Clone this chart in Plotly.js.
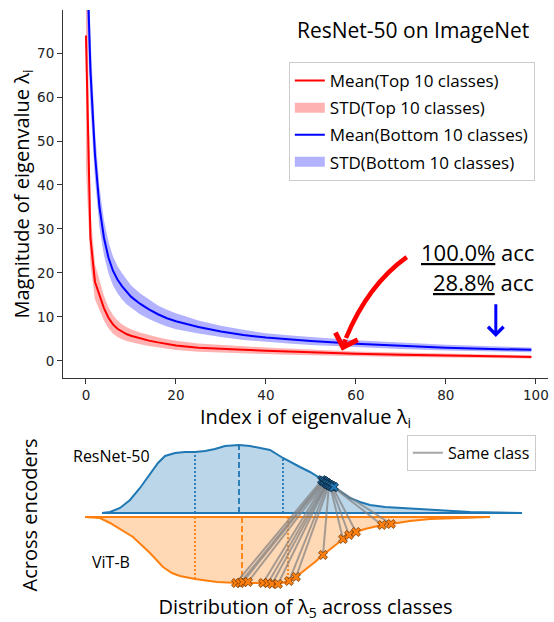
<!DOCTYPE html>
<html>
<head>
<meta charset="utf-8">
<script src="https://cdn.plot.ly/plotly-3.0.1.min.js"></script>
<style>html,body{margin:0;padding:0;background:#fff;}#chart{width:554px;height:622px;}</style>
</head>
<body>
<div id="chart"></div>
<script>
// ---------- Top panel data: eigenvalue spectrum ----------
const eigIndex   = [0,1,2,3,4,5,6,7,8,9,10,12,14,16,18,20,25,30,35,40,45,50,60,70,80,90,99];
const meanTop    = [74,28,18,15,12,9.8,8.3,7.3,6.6,6.1,5.7,5.1,4.6,4.2,3.8,3.5,3.0,2.7,2.5,2.3,2.1,1.9,1.6,1.4,1.2,1.0,0.9];
const stdTop     = [30,6,4,3.2,2.8,2.4,2.1,1.9,1.7,1.6,1.5,1.35,1.25,1.15,1.1,1.05,0.95,0.85,0.8,0.75,0.7,0.65,0.55,0.5,0.45,0.4,0.35];
const meanBottom = [100,66,47,35,28,23.5,20.5,18.5,17,15.7,14.6,13,11.7,10.6,9.7,9.0,7.7,6.7,5.9,5.3,4.9,4.5,3.9,3.4,3.0,2.7,2.5];
const stdBottom  = [15,8,5.5,4.6,4.0,3.6,3.3,3.1,3.0,2.8,2.6,2.4,2.2,2.0,1.9,1.8,1.5,1.3,1.15,1.0,0.95,0.9,0.8,0.7,0.65,0.6,0.55];
const xTickVals  = [0,20,40,60,80,100];
const yTickVals  = [0,10,20,30,40,50,60,70];

// ---------- Bottom panel data: distribution of lambda_5 ----------
const resnetX    = [102,110,120,130,140,150,158,165,175,185,195,205,215,225,239,250,260,270,283,292,300,310,320,328,340,350,360,370,385,400,430,470,522];
const resnetDens = [2,3,7,15,27,41,52,59,62,63,63,64,66,69,70,69,67,65,57,52,48,43,37,32,24,17,13,10,8,7,5,3,2];
const vitX       = [85,100,110,120,133,150,163,172,180,195,217,239,260,278,289,296,305,315,323,333,343,350,356,365,382,391,410,430,460,490];
const vitDens    = [-2,-3,-8,-14,-22,-38,-52,-58,-61,-64,-67,-68,-68,-69,-66,-62,-55,-47,-40,-32,-24,-20,-17,-14,-10,-9,-6,-4,-3,-2];
const resnetQuartX = [195,239,283];
const resnetQuartH = [63,70,57];
const vitQuartX    = [195,242,288];
const vitQuartH    = [-64,-67.5,-66];
const resnetCrossX = [322,323,324,325,325,326,327,327,328,329,329,330,331,332,333,334];
const resnetCrossY = [35,34,34,33,33,32,32,31,31,30,30,30,29,29,28,28];
const vitCrossX    = [236,240,243,248,263,268,272,278,289,296,323,343,349,356,382,391];
const vitCrossY    = [-68,-68,-67,-67,-68,-68,-69,-69,-66,-62,-40,-24,-20,-17,-10,-9];

const TITLE_FONT = '"Open Sans", "Noto Sans", sans-serif';
const TICK_FONT = '"DejaVu Sans", sans-serif';

function band(x, m, s) {
  const up = m.map((v, i) => v + s[i]);
  const lo = m.map((v, i) => v - s[i]);
  return {x: x.concat(x.slice().reverse()), y: up.concat(lo.reverse())};
}
const bTop = band(eigIndex, meanTop, stdTop);
const bBot = band(eigIndex, meanBottom, stdBottom);

const traces = [
  {x: bTop.x, y: bTop.y, xaxis: 'x', yaxis: 'y', mode: 'lines', fill: 'toself',
   fillcolor: 'rgba(255,0,0,0.3)', line: {width: 0}, showlegend: false, legendgroup: 'sTop', hoverinfo: 'skip'},
  {x: bBot.x, y: bBot.y, xaxis: 'x', yaxis: 'y', mode: 'lines', fill: 'toself',
   fillcolor: 'rgba(0,0,255,0.3)', line: {width: 0}, showlegend: false, legendgroup: 'sBot', hoverinfo: 'skip'},
  {x: eigIndex, y: meanTop, xaxis: 'x', yaxis: 'y', mode: 'lines', line: {color: '#ff0000', width: 2},
   name: 'Mean(Top 10 classes)', legendgroup: 'mTop', legendrank: 1},
  {x: eigIndex, y: meanBottom, xaxis: 'x', yaxis: 'y', mode: 'lines', line: {color: '#0000ff', width: 2},
   name: 'Mean(Bottom 10 classes)', legendgroup: 'mBot', legendrank: 3},
  // legend-only swatches for the STD bands
  {x: [null], y: [null], xaxis: 'x', yaxis: 'y', mode: 'lines', line: {color: 'rgba(255,0,0,0.3)', width: 11},
   name: 'STD(Top 10 classes)', legendgroup: 'sTop', legendrank: 2},
  {x: [null], y: [null], xaxis: 'x', yaxis: 'y', mode: 'lines', line: {color: 'rgba(0,0,255,0.3)', width: 11},
   name: 'STD(Bottom 10 classes)', legendgroup: 'sBot', legendrank: 4}
];

// bottom panel: half violins
traces.push({x: resnetX.concat([resnetX[0]]), y: resnetDens.concat([resnetDens[0]]), xaxis: 'x2', yaxis: 'y2',
  mode: 'lines', fill: 'toself', fillcolor: 'rgba(31,119,180,0.3)', line: {color: '#1f77b4', width: 2},
  showlegend: false, hoverinfo: 'skip'});
traces.push({x: vitX.concat([vitX[0]]), y: vitDens.concat([vitDens[0]]), xaxis: 'x2', yaxis: 'y2',
  mode: 'lines', fill: 'toself', fillcolor: 'rgba(255,127,14,0.3)', line: {color: '#ff7f0e', width: 2},
  showlegend: false, hoverinfo: 'skip'});

function quartLines(qx, qh, base, color) {
  const styles = ['2px,2px', '6px,3px', '2px,2px'];
  return qx.map((xv, i) => ({x: [xv, xv], y: [base, qh[i]], xaxis: 'x2', yaxis: 'y2', mode: 'lines',
    line: {color: color, width: 1.8, dash: styles[i]}, showlegend: false, hoverinfo: 'skip'}));
}
traces.push(...quartLines(resnetQuartX, resnetQuartH, resnetDens[0], '#1f77b4'));
traces.push(...quartLines(vitQuartX, vitQuartH, vitDens[0], '#ff7f0e'));

// same-class links
const linkX = [], linkY = [];
resnetCrossX.forEach((xv, i) => { linkX.push(xv, vitCrossX[i], null); linkY.push(resnetCrossY[i], vitCrossY[i], null); });
traces.push({x: linkX, y: linkY, xaxis: 'x2', yaxis: 'y2', mode: 'lines',
  line: {color: 'rgba(128,128,128,0.7)', width: 2}, name: 'Same class', legend: 'legend2'});
traces.push({x: vitCrossX, y: vitCrossY, xaxis: 'x2', yaxis: 'y2', mode: 'markers',
  marker: {symbol: 'x', size: 8, color: '#ff7f0e', line: {color: '#6b3300', width: 0.8}}, showlegend: false});
traces.push({x: resnetCrossX, y: resnetCrossY, xaxis: 'x2', yaxis: 'y2', mode: 'markers',
  marker: {symbol: 'x', size: 8, color: '#1f77b4', line: {color: '#0d2236', width: 0.8}}, showlegend: false});

const layout = {
  width: 554, height: 622,
  margin: {l: 63, r: 6, t: 10, b: 0},
  paper_bgcolor: '#ffffff', plot_bgcolor: '#ffffff',
  font: {family: TITLE_FONT, color: '#000'},
  xaxis: {domain: [0, 1], anchor: 'y', range: [-5.1, 102.7], tickmode: 'array', tickvals: xTickVals,
    ticks: 'outside', ticklen: 5, tickwidth: 1, tickcolor: '#333', showline: true, linecolor: '#333', linewidth: 1,
    showgrid: false, zeroline: false, tickfont: {family: TICK_FONT, size: 13.5, color: '#222'},
    title: {text: 'Index i of eigenvalue λ<sub>i</sub>', font: {family: TITLE_FONT, size: 20, color: '#000'}, standoff: 2}},
  yaxis: {domain: [0.3987, 1], anchor: 'x', range: [-3.9, 79.8], tickmode: 'array', tickvals: yTickVals,
    ticks: 'outside', ticklen: 5, tickwidth: 1, tickcolor: '#333', showline: true, linecolor: '#333', linewidth: 1,
    showgrid: false, zeroline: false, tickfont: {family: TICK_FONT, size: 13.5, color: '#222'},
    title: {text: 'Magnitude of eigenvalue λ<sub>i</sub>', font: {family: TITLE_FONT, size: 20, color: '#000'}, standoff: 0}},
  xaxis2: {domain: [0, 1], anchor: 'y2', range: [63, 548], showline: false, showgrid: false, zeroline: false,
    ticks: '', showticklabels: false,
    title: {text: 'Distribution of λ<sub>5</sub> across classes', font: {family: TITLE_FONT, size: 20, color: '#000'}, standoff: 12}},
  yaxis2: {domain: [0.0523, 0.2974], anchor: 'x2', range: [-75, 75], showline: false, showgrid: false, zeroline: false,
    ticks: '', showticklabels: false,
    title: {text: 'Across encoders', font: {family: TITLE_FONT, size: 20, color: '#000'}, standoff: 18}},
  legend: {x: 0.4656, xanchor: 'left', y: 0.915, yanchor: 'top', bgcolor: 'rgba(255,255,255,0.8)',
    bordercolor: '#cccccc', borderwidth: 1, font: {family: TITLE_FONT, size: 17, color: '#000'},
    traceorder: 'grouped', tracegroupgap: 2},
  legend2: {x: 0.975, xanchor: 'right', y: 0.306, yanchor: 'top', bgcolor: 'rgba(255,255,255,0.8)',
    bordercolor: '#cccccc', borderwidth: 1, font: {family: TITLE_FONT, size: 16, color: '#000'}},
  shapes: [
    {type: 'path', xref: 'x', yref: 'y', path: 'M 71.3,23.6 Q 62.7,17.3 57.8,5.2',
     line: {color: '#ff0000', width: 4.5}}
  ],
  annotations: [
    {xref: 'x', yref: 'y', x: 72.7, y: 75.2, text: 'ResNet-50 on ImageNet', showarrow: false,
     font: {family: TITLE_FONT, size: 21, color: '#000'}},
    {xref: 'x', yref: 'y', x: 100, y: 24.8, xanchor: 'right', text: '<u>100.0%</u> acc', showarrow: false,
     font: {family: TITLE_FONT, size: 22, color: '#000'}},
    {xref: 'x', yref: 'y', x: 100, y: 18.0, xanchor: 'right', text: '<u>28.8%</u> acc', showarrow: false,
     font: {family: TITLE_FONT, size: 22, color: '#000'}},
    {xref: 'x', yref: 'y', axref: 'x', ayref: 'y', x: 56.9, y: 2.3, ax: 57.8, ay: 5.2, text: '',
     showarrow: true, arrowhead: 4, arrowsize: 1.0, arrowwidth: 4.5, arrowcolor: '#ff0000', standoff: 0},
    {xref: 'x', yref: 'y', axref: 'x', ayref: 'y', x: 91.1, y: 5.45, ax: 91.1, ay: 13.2, text: '',
     showarrow: true, arrowhead: 4, arrowsize: 1.0, arrowwidth: 3, arrowcolor: '#0000ff', standoff: 0},
    {xref: 'x2', yref: 'y2', x: 111, y: 59, text: 'ResNet-50', showarrow: false,
     font: {family: TITLE_FONT, size: 16, color: '#000'}},
    {xref: 'x2', yref: 'y2', x: 111, y: -47, text: 'ViT-B', showarrow: false,
     font: {family: TITLE_FONT, size: 16, color: '#000'}}
  ]
};

Plotly.newPlot('chart', traces, layout, {displayModeBar: false, staticPlot: true});
</script>
</body>
</html>
